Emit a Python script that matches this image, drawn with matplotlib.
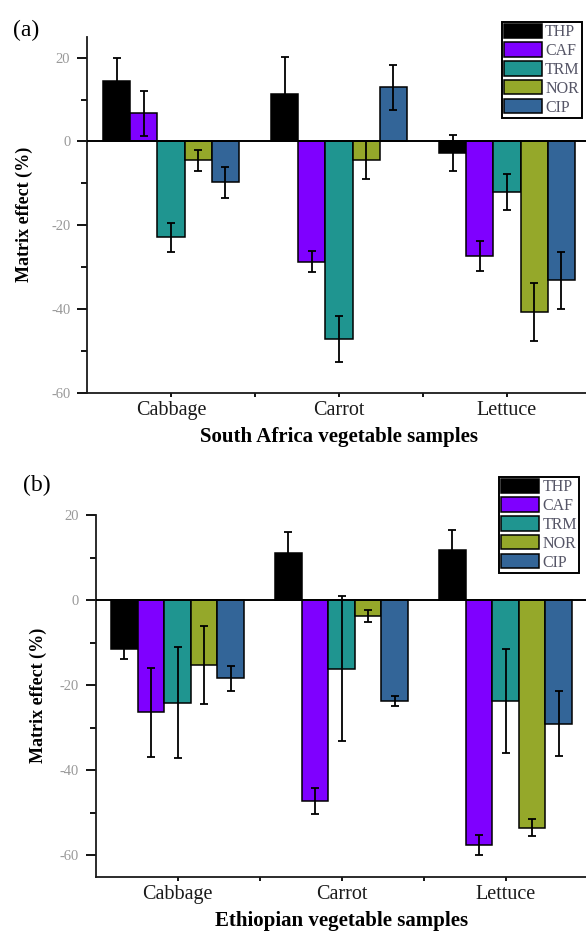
import numpy as np
import matplotlib
matplotlib.use('Agg')
import matplotlib.pyplot as plt
from matplotlib.ticker import MultipleLocator, FixedLocator

plt.rcParams['font.family'] = ['Liberation Serif', 'DejaVu Serif']
plt.rcParams['axes.unicode_minus'] = False

# Data
samples = ['Cabbage', 'Carrot', 'Lettuce']
compounds = ['THP', 'CAF', 'TRM', 'NOR', 'CIP']
colors = ['#000000', '#7f00ff', '#1f9590', '#95a82a', '#336598']

# (a) South Africa
sa_thp = [14.4, 11.2, -2.7]
sa_caf = [6.7, -28.7, -27.4]
sa_trm = [-22.9, -47.1, -12.1]
sa_nor = [-4.5, -4.5, -40.8]
sa_cip = [-9.8, 12.9, -33.2]
sa_thp_err = [5.4, 8.9, 4.3]
sa_caf_err = [5.4, 2.5, 3.6]
sa_trm_err = [3.4, 5.5, 4.3]
sa_nor_err = [2.5, 4.5, 6.9]
sa_cip_err = [3.8, 5.4, 6.7]

# (b) Ethiopia
et_thp = [-11.4, 11.1, 11.7]
et_caf = [-26.4, -47.2, -57.5]
et_trm = [-24.1, -16.1, -23.7]
et_nor = [-15.3, -3.7, -53.5]
et_cip = [-18.4, -23.7, -29.0]
et_thp_err = [2.5, 5.0, 4.8]
et_caf_err = [10.5, 3.1, 2.3]
et_trm_err = [13.0, 17.0, 12.2]
et_nor_err = [9.2, 1.4, 2.0]
et_cip_err = [2.9, 1.2, 7.6]

sa_vals = [sa_thp, sa_caf, sa_trm, sa_nor, sa_cip]
sa_errs = [sa_thp_err, sa_caf_err, sa_trm_err, sa_nor_err, sa_cip_err]
et_vals = [et_thp, et_caf, et_trm, et_nor, et_cip]
et_errs = [et_thp_err, et_caf_err, et_trm_err, et_nor_err, et_cip_err]

W, H = 586, 932
fig = plt.figure(figsize=(W / 100, H / 100), dpi=100)

ax_a = fig.add_axes([87 / W, 1 - 392.7 / H, 504 / W, 356 / H])
ax_b = fig.add_axes([95.5 / W, 1 - 876.7 / H, 492 / W, 361.7 / H])

width = 0.162
x = np.arange(len(samples))


def draw(ax, vals, errs, ylim, xlabel, leg_xy):
    for i, (v, e) in enumerate(zip(vals, errs)):
        ax.bar(x + (i - 2) * width, v, width, color=colors[i],
               edgecolor='black', linewidth=1.1, label=compounds[i],
               yerr=e, capsize=3,
               error_kw=dict(elinewidth=1.3, capthick=1.3, ecolor='black'),
               zorder=2)
    ax.axhline(0, color='black', lw=1.4, zorder=3)
    ax.set_xlim(-0.5, 2.5)
    ax.set_ylim(*ylim)
    for s in ['top', 'right']:
        ax.spines[s].set_visible(False)
    for s in ['left', 'bottom']:
        ax.spines[s].set_linewidth(1.3)
        ax.spines[s].set_color('#1a1a1a')
    ax.yaxis.set_major_locator(MultipleLocator(20))
    ax.yaxis.set_minor_locator(MultipleLocator(10))
    ax.set_xticks(x)
    ax.set_xticklabels(samples, fontsize=14.5, color='#1a1a1a')
    ax.xaxis.set_minor_locator(FixedLocator([0.5, 1.5]))
    ax.tick_params(axis='y', which='major', length=7, width=1.3,
                   labelsize=10.5, labelcolor='#999999', pad=5)
    ax.tick_params(axis='y', which='minor', length=4, width=1.3)
    ax.tick_params(axis='x', which='both', length=3, width=1.3, pad=3)
    ax.set_ylabel('Matrix effect (%)', fontsize=13, fontweight='bold')
    ax.set_xlabel(xlabel, fontsize=15, fontweight='bold')
    leg = ax.legend(loc='upper left', bbox_to_anchor=leg_xy,
                    bbox_transform=fig.transFigure, borderaxespad=0,
                    fontsize=11.5, handlelength=2.4, handleheight=1.0,
                    labelspacing=0.14, borderpad=0.12, handletextpad=0.2,
                    fancybox=False, framealpha=1, edgecolor='black')
    leg.get_frame().set_linewidth(1.4)
    for t in leg.get_texts():
        t.set_color('#555566')


draw(ax_a, sa_vals, sa_errs, (-60, 25), 'South Africa vegetable samples',
     (501.7 / W, 1 - 21.7 / H))
draw(ax_b, et_vals, et_errs, (-65, 20), 'Ethiopian vegetable samples',
     (499 / W, 1 - 476.7 / H))

ax_a.yaxis.set_label_coords((33 - 87) / 504, 0.5)
ax_b.yaxis.set_label_coords((47 - 95.5) / 492, 0.5)
ax_a.xaxis.set_label_coords(0.5, -34 / 356)
ax_b.xaxis.set_label_coords(0.5, -34 / 361.7)

fig.text(13 / W, 1 - 30 / H, '(a)', fontsize=17, va='center', ha='left')
fig.text(23 / W, 1 - 485 / H, '(b)', fontsize=17, va='center', ha='left')

fig.savefig('out.png', dpi=100)
